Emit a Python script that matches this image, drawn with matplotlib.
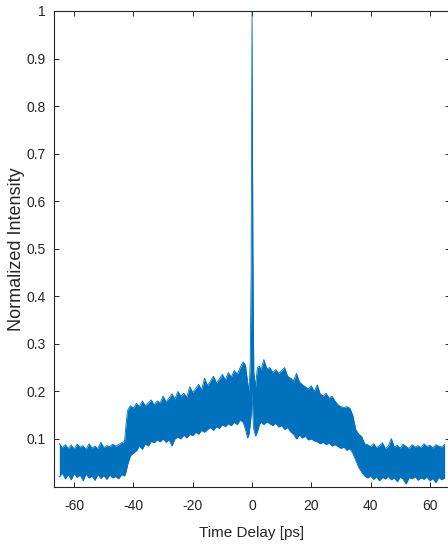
import numpy as np
import matplotlib
matplotlib.use("Agg")
import matplotlib.pyplot as plt

# --- STYLE (MATLAB-like) ---
plt.rcParams['font.family'] = ['Liberation Sans', 'DejaVu Sans']
plt.rcParams['axes.edgecolor'] = '#262626'
plt.rcParams['xtick.color'] = '#262626'
plt.rcParams['ytick.color'] = '#262626'

time_ps = [
    -65, -64, -63, -62, -61, -60, -59, -58, -57, -56, -55, -54, -53, -52, -51, -50,
    -49, -48, -47, -46, -45, -44, -43, -42.5, -42, -41, -40, -39, -38, -37, -36, -35,
    -34, -33, -32, -31, -30, -29, -28, -27, -26, -25, -24, -23, -22, -21, -20, -19,
    -18, -17, -16, -15, -14, -13, -12, -11, -10, -9, -8, -7, -6, -5, -4, -3,
    -2.2, -1.5, -1, -0.6, -0.3, 0, 0.3, 0.6, 1.2, 1.8, 2.5, 3, 4, 5, 6, 7,
    8, 9, 10, 11, 12, 13, 14, 15, 16, 17, 18, 19, 20, 21, 22, 23,
    24, 25, 26, 27, 28, 29, 30, 31, 32, 33, 34, 35, 36, 37, 38, 39,
    40, 41, 42, 43, 44, 45, 46, 47, 48, 49, 50, 51, 52, 53, 54, 55,
    56, 57, 58, 59, 60, 61, 62, 63, 64, 65,
]
upper = [
    0.090, 0.082, 0.088, 0.080, 0.087, 0.079, 0.089, 0.083, 0.086, 0.078, 0.090, 0.081, 0.085, 0.080, 0.093, 0.082,
    0.086, 0.084, 0.089, 0.085, 0.088, 0.092, 0.095, 0.130, 0.160, 0.170, 0.165, 0.175, 0.168, 0.180, 0.170, 0.176,
    0.182, 0.172, 0.180, 0.176, 0.190, 0.178, 0.186, 0.195, 0.184, 0.200, 0.190, 0.196, 0.188, 0.210, 0.198, 0.206,
    0.215, 0.203, 0.228, 0.212, 0.222, 0.232, 0.218, 0.226, 0.236, 0.224, 0.240, 0.230, 0.244, 0.236, 0.250, 0.262,
    0.255, 0.220, 0.200, 0.260, 0.450, 1.000, 0.500, 0.240, 0.210, 0.250, 0.253, 0.245, 0.267, 0.248, 0.250, 0.240,
    0.246, 0.238, 0.244, 0.250, 0.232, 0.228, 0.222, 0.238, 0.220, 0.214, 0.210, 0.205, 0.212, 0.200, 0.214, 0.195,
    0.190, 0.196, 0.186, 0.190, 0.180, 0.172, 0.168, 0.166, 0.168, 0.165, 0.150, 0.120, 0.110, 0.105, 0.090, 0.088,
    0.084, 0.090, 0.082, 0.086, 0.092, 0.080, 0.085, 0.101, 0.083, 0.087, 0.081, 0.089, 0.084, 0.080, 0.088, 0.083,
    0.086, 0.082, 0.090, 0.084, 0.087, 0.081, 0.088, 0.085, 0.083, 0.089,
]
lower = [
    0.020, 0.028, 0.016, 0.025, 0.014, 0.027, 0.019, 0.024, 0.012, 0.026, 0.018, 0.022, 0.013, 0.025, 0.017, 0.023,
    0.015, 0.024, 0.018, 0.021, 0.016, 0.025, 0.022, 0.030, 0.045, 0.065, 0.070, 0.075, 0.085, 0.078, 0.090, 0.085,
    0.095, 0.092, 0.098, 0.094, 0.100, 0.093, 0.098, 0.085, 0.100, 0.104, 0.100, 0.108, 0.102, 0.110, 0.107, 0.114,
    0.110, 0.118, 0.114, 0.120, 0.124, 0.118, 0.126, 0.122, 0.130, 0.126, 0.132, 0.128, 0.135, 0.130, 0.140, 0.135,
    0.120, 0.102, 0.110, 0.130, 0.150, 0.200, 0.150, 0.120, 0.106, 0.115, 0.130, 0.135, 0.130, 0.136, 0.132, 0.128,
    0.133, 0.125, 0.128, 0.120, 0.124, 0.115, 0.110, 0.100, 0.108, 0.102, 0.106, 0.098, 0.100, 0.096, 0.094, 0.090,
    0.093, 0.088, 0.092, 0.085, 0.088, 0.084, 0.080, 0.083, 0.076, 0.080, 0.070, 0.055, 0.040, 0.030, 0.022, 0.018,
    0.022, 0.015, 0.020, 0.012, 0.019, 0.016, 0.021, 0.014, 0.018, 0.010, 0.020, 0.015, 0.005, 0.019, 0.016, 0.021,
    0.013, 0.018, 0.015, 0.020, 0.012, 0.017, 0.008, 0.019, 0.014, 0.018,
]

ytick_vals = [0.1, 0.2, 0.3, 0.4, 0.5, 0.6, 0.7, 0.8, 0.9, 1.0]
ytick_labels = ['0.1', '0.2', '0.3', '0.4', '0.5', '0.6', '0.7', '0.8', '0.9', '1']
xtick_vals = [-60, -40, -20, 0, 20, 40, 60]

matlab_blue = '#0072BD'

W, H = 448, 554
fig = plt.figure(figsize=(W / 100, H / 100), dpi=100)
ax = fig.add_axes([54 / W, 1 - 486.5 / H, (450 - 54) / W, (486.5 - 11) / H])

ax.fill_between(time_ps, lower, upper, color=matlab_blue, linewidth=0)
ax.plot(time_ps, upper, color=matlab_blue, linewidth=0.6)
ax.plot(time_ps, lower, color=matlab_blue, linewidth=0.6)

ax.set_xlim(-66.8, 66.8)
ax.set_ylim(0, 1)
ax.set_xticks(xtick_vals)
ax.set_xticklabels([str(v) for v in xtick_vals])
ax.set_yticks(ytick_vals)
ax.set_yticklabels(ytick_labels)

ax.tick_params(direction='in', length=3.4, width=0.7, top=True, right=True, labelsize=10)
ax.tick_params(axis='x', pad=9)
ax.tick_params(axis='y', pad=6)
for sp in ax.spines.values():
    sp.set_linewidth(0.8)

ax.set_xlabel("Time Delay [ps]", fontsize=11, color='#262626', labelpad=9)
ax.set_ylabel("Normalized Intensity", fontsize=13, color='#262626')
ax.yaxis.set_label_coords(-0.072, 0.5)

fig.savefig('out.png', dpi=100)
